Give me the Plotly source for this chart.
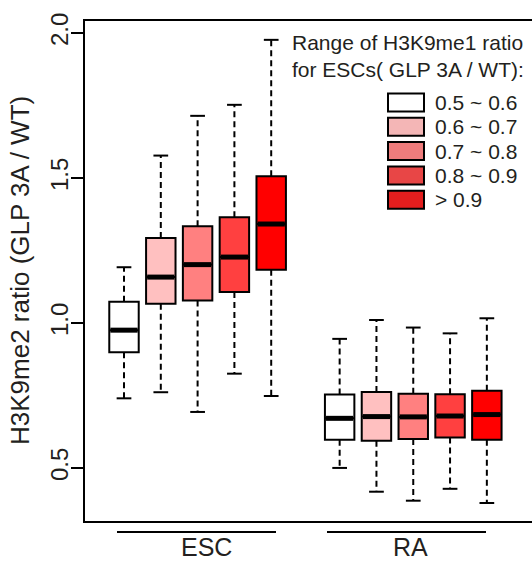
import plotly.graph_objects as go

# ---------------- data ----------------
groups = ["ESC", "RA"]
ranges = ["0.5 ~ 0.6", "0.6 ~ 0.7", "0.7 ~ 0.8", "0.8 ~ 0.9", "> 0.9"]
positions = [1, 2, 3, 4, 5, 6.86, 7.86, 8.86, 9.86, 10.86]

lower_whisker = [0.740, 0.761, 0.693, 0.825, 0.748, 0.500, 0.418, 0.387, 0.428, 0.379]
q1_values     = [0.899, 1.066, 1.077, 1.107, 1.183, 0.597, 0.594, 0.600, 0.605, 0.597]
medians       = [0.975, 1.158, 1.201, 1.227, 1.341, 0.671, 0.677, 0.676, 0.679, 0.684]
q3_values     = [1.073, 1.293, 1.333, 1.364, 1.506, 0.753, 0.762, 0.756, 0.754, 0.766]
upper_whisker = [1.192, 1.577, 1.714, 1.752, 1.976, 0.945, 1.010, 0.984, 0.964, 1.016]

box_colors = ["#FFFFFF", "#FFC0C0", "#FF8080", "#FF4040", "#FF0000"]
legend_colors = ["#FFFFFF", "#F4B6B6", "#EE7C7C", "#E84646", "#E31E1E"]

y_ticks = [0.5, 1.0, 1.5, 2.0]
y_tick_labels = ["0.5", "1.0", "1.5", "2.0"]

FONT = "Liberation Sans, Arial, Helvetica, sans-serif"
W, H = 532, 562
ML, MR, MT, MB = 85, 0, 21, 41

def px_x(px):
    return (px - ML) / (W - ML - MR)

def px_y(py):
    return (H - MB - py) / (H - MT - MB)

fig = go.Figure()

box_w = 0.8
cap_half = 0.2
for i, p in enumerate(positions):
    col = box_colors[i % 5]
    fig.add_trace(go.Box(
        x=[p], q1=[q1_values[i]], median=[medians[i]], q3=[q3_values[i]],
        lowerfence=[q1_values[i]], upperfence=[q3_values[i]],
        width=box_w, fillcolor=col, line=dict(color="black", width=2),
        boxpoints=False, whiskerwidth=0, showlegend=False, hoverinfo="skip",
    ))

# dashed whiskers
wx, wy = [], []
for i, p in enumerate(positions):
    wx += [p, p, None, p, p, None]
    wy += [q3_values[i], upper_whisker[i], None, q1_values[i], lower_whisker[i], None]
fig.add_trace(go.Scatter(x=wx, y=wy, mode="lines",
                         line=dict(color="black", width=2, dash="6px,4px"),
                         showlegend=False, hoverinfo="skip"))

# caps
cx, cy = [], []
for i, p in enumerate(positions):
    cx += [p - cap_half, p + cap_half, None, p - cap_half, p + cap_half, None]
    cy += [upper_whisker[i], upper_whisker[i], None, lower_whisker[i], lower_whisker[i], None]
fig.add_trace(go.Scatter(x=cx, y=cy, mode="lines",
                         line=dict(color="black", width=2),
                         showlegend=False, hoverinfo="skip"))

# thick medians
mx, my = [], []
for i, p in enumerate(positions):
    mx += [p - box_w / 2 + 0.03, p + box_w / 2 - 0.03, None]
    my += [medians[i], medians[i], None]
fig.add_trace(go.Scatter(x=mx, y=my, mode="lines",
                         line=dict(color="black", width=5),
                         showlegend=False, hoverinfo="skip"))

shapes = []
annotations = []

# legend
annotations.append(dict(
    xref="paper", yref="paper", x=px_x(290), y=px_y(56), xanchor="left", yanchor="middle",
    text="Range of H3K9me1 ratio<br>for ESCs( GLP 3A / WT):", showarrow=False, align="left",
    font=dict(family=FONT, size=21, color="#231F20")))
row_y = [102.5, 126.8, 151.1, 175.4, 199.7]
for k, lab in enumerate(ranges):
    cyk = row_y[k]
    shapes.append(dict(type="rect", xref="paper", yref="paper",
                       x0=px_x(388), x1=px_x(424), y0=px_y(cyk + 9), y1=px_y(cyk - 9),
                       fillcolor=legend_colors[k], line=dict(color="black", width=2)))
    annotations.append(dict(
        xref="paper", yref="paper", x=px_x(433), y=px_y(cyk), xanchor="left", yanchor="middle",
        text=lab, showarrow=False, font=dict(family=FONT, size=21, color="#231F20")))

# group lines and labels
for (x0, x1, tx), g in zip([(117, 276, 206), (327, 486, 410)], groups):
    shapes.append(dict(type="line", xref="paper", yref="paper",
                       x0=px_x(x0), x1=px_x(x1), y0=px_y(532), y1=px_y(532),
                       line=dict(color="black", width=2)))
    annotations.append(dict(
        xref="paper", yref="paper", x=px_x(tx), y=px_y(547), xanchor="center", yanchor="middle",
        text=g, showarrow=False, font=dict(family=FONT, size=25, color="#231F20")))

# y axis title
annotations.append(dict(
    xref="paper", yref="paper", x=px_x(20), y=px_y(271), xanchor="center", yanchor="middle",
    text="H3K9me2 ratio (GLP 3A / WT)", textangle=-90, showarrow=False,
    font=dict(family=FONT, size=26, color="#231F20")))

fig.update_layout(
    width=W, height=H, margin=dict(l=ML, r=MR, t=MT, b=MB, pad=0),
    plot_bgcolor="white", paper_bgcolor="white",
    shapes=shapes, annotations=annotations,
    xaxis=dict(range=[1 - 39 / 36.8, 1 - 39 / 36.8 + 447 / 36.8], showgrid=False, zeroline=False,
               showticklabels=False, ticks="", showline=True, mirror=True,
               linecolor="black", linewidth=2),
    yaxis=dict(range=[0.317, 2.041], showgrid=False, zeroline=False,
               tickvals=y_ticks, ticktext=y_tick_labels, tickangle=-90,
               ticks="outside", ticklen=12, tickwidth=2, tickcolor="black",
               ticklabelstandoff=-7,
               showline=True, mirror=False, linecolor="black", linewidth=2,
               tickfont=dict(family=FONT, size=24, color="#231F20")),
    showlegend=False,
)

fig.write_html("out.html")
